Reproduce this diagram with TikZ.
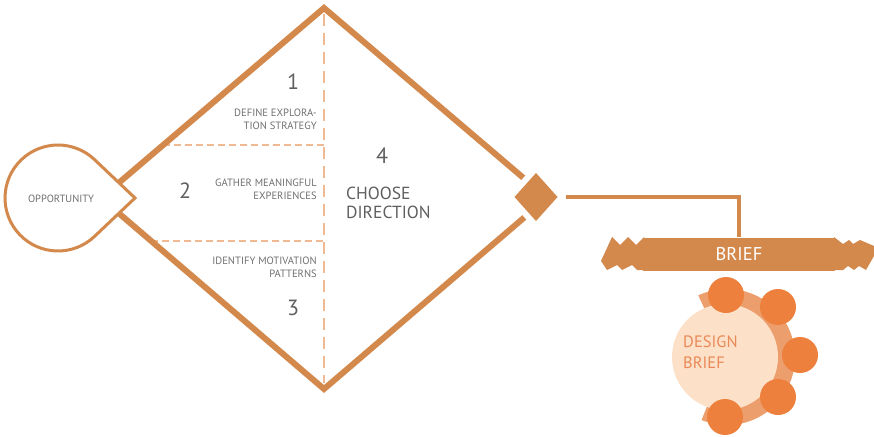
\documentclass[tikz,border=0pt]{standalone}
\usepackage{fontspec}
\setmainfont{PT Sans}
\usepackage{tikz}
\usetikzlibrary{shapes.geometric}
\usetikzlibrary{calc}

\definecolor{arancio}{RGB}{211,137,76}
\definecolor{tratteggio}{RGB}{239,186,146}
\definecolor{grigio}{RGB}{95,95,95}
\definecolor{grigino}{RGB}{112,112,112}
\definecolor{crema}{RGB}{252,224,200}
\definecolor{anello}{RGB}{236,158,108}
\definecolor{pallino}{RGB}{238,128,62}
\definecolor{testobrief}{RGB}{234,137,88}

\begin{document}
\begin{tikzpicture}[x=1pt,y=-1pt,
  passo/.style={font=\fontsize{10.6}{13}\selectfont,text=grigino,align=right,inner sep=0pt,anchor=east},
  numero/.style={font=\fontsize{22}{24}\selectfont,text=grigio,inner sep=0pt},
  linea/.style={arancio,line width=6pt},
  tratto/.style={tratteggio,line width=2pt,dash pattern=on 7pt off 4pt},
  pallo/.style={circle,fill=pallino,minimum size=36pt,inner sep=0pt}]

\useasboundingbox (0,0) rectangle (874,436);

% --- Tratteggi
\draw[tratto] (163,145) -- (324,145);
\draw[tratto] (151,241) -- (324,241);
\draw[tratto,dash pattern=on 12pt off 7pt] (324,14) -- (324,383);

% --- Rombo
\coordinate (top) at (324,8);
\coordinate (bot) at (324,389);
\coordinate (sx) at (101,198);
\coordinate (dx) at (547,198);
\draw[linea] (sx) -- (top) -- (dx) -- (bot) -- cycle;

% --- Goccia
\coordinate (c) at (58,198);
\draw[arancio,line width=3pt,fill=white] (135,198) -- ($(c)+(46.5:53)$)
  arc[start angle=46.5,end angle=313.5,radius=53] -- cycle;
\node[font=\fontsize{10.5}{12}\selectfont,text=grigino] (opp) at (61,199) {OPPORTUNITY};

% --- Passi
\node[numero] (n1) at (293,81.5) {1};
\node[passo] (s1) at (317,119) {DEFINE EXPLORA-\\TION STRATEGY};
\node[numero] (n2) at (185,190.5) {2};
\node[passo] (s2) at (317,189.5) {GATHER MEANINGFUL\\EXPERIENCES};
\node[passo] (s3) at (317,267.5) {IDENTIFY MOTIVATION\\PATTERNS};
\node[numero] (n3) at (293,307.5) {3};
\node[numero] (n4) at (382,156) {4};
\node[font=\fontsize{17.5}{19}\selectfont,text=grigio,align=left,inner sep=0pt,anchor=west]
  (s4) at (346,203) {CHOOSE\\DIRECTION};

% --- Rombo piccolo e collegamento
\node[diamond,fill=arancio,draw=white,line width=6pt,minimum width=54pt,
  minimum height=60pt,inner sep=0pt] (dec) at (536,197) {};

% --- Nastro BRIEF
\fill[arancio] (644,237) -- (636,245) -- (628,237) -- (620,245) -- (612,237)
  -- (601,261) -- (607,270) -- (617,265) -- (622,270) -- (632,265) -- (637,270)
  -- (644,270) -- cycle;
\fill[arancio] (834,237) -- (843,244) -- (849,240) -- (853,244) -- (860,240)
  -- (874,246) -- (874,256) -- (866,270) -- (859,266) -- (854,270) -- (848,266)
  -- (843,270) -- (834,270) -- cycle;
\node[fill=arancio,text=white,minimum width=192pt,minimum height=33pt,inner sep=0pt,
  font=\fontsize{18.5}{20}\selectfont] (brief) at (739,254) {BRIEF};
\draw[arancio,line width=4pt] (dec.east) -| (brief.north);

% --- Design brief
\coordinate (c2) at (727,357);
\fill[anello] (c2) -- ++(-115:68) arc[start angle=-115,end angle=112,radius=68] -- cycle;
\fill[crema] (725,357) circle[radius=53];
\foreach \i/\pos in {1/{726,295},2/{778,307},3/{800,355},4/{778,397},5/{725,417}}{
  \node[pallo] (p\i) at (\pos) {};
}
\node[font=\fontsize{16.5}{21}\selectfont,text=testobrief,align=left,inner sep=0pt,anchor=west]
  (db) at (683,352) {DESIGN\\BRIEF};

\end{tikzpicture}
\end{document}
